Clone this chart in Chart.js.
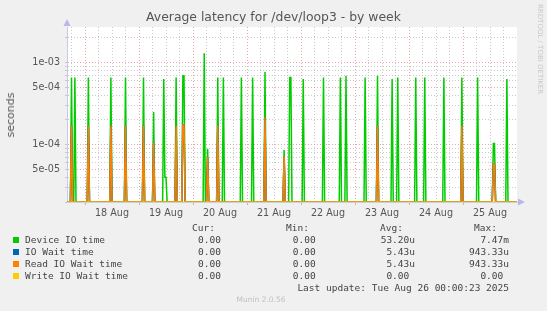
<!DOCTYPE html>
<html>
<head>
<meta charset="utf-8">
<script src="https://cdn.jsdelivr.net/npm/chart.js@4/dist/chart.umd.min.js"></script>
<style>
html, body { margin: 0; padding: 0; background: #f0f0f0; }
#wrap { position: relative; width: 547px; height: 311px; overflow: hidden; font-family: "DejaVu Sans", sans-serif; }
#myChart { position: absolute; left: 0; top: 0; }
.t { position: absolute; white-space: pre; line-height: 12px; }
.mono { font-family: "DejaVu Sans Mono", monospace; font-size: 9.5px; color: #444; }
.sq { position: absolute; width: 6px; height: 6px; }
</style>
</head>
<body>
<div id="wrap">
  <canvas id="myChart" width="547" height="311"></canvas>
  <div class="t" style="left:0;width:547px;top:11px;text-align:center;font-size:12.4px;color:#555;">Average latency for /dev/loop3 - by week</div>
  <div class="t" style="left:11px;top:115px;font-size:11px;color:#555;transform:translate(-50%,-50%) rotate(-90deg);">seconds</div>
  <div class="t" style="left:534px;top:4px;font-size:7px;color:#c8c8c8;writing-mode:vertical-rl;">RRDTOOL / TOBI OETIKER</div>
  <div class="t" style="left:0;width:522px;top:294px;text-align:center;font-size:7.5px;color:#c0c0c0;">Munin 2.0.56</div>
  <div id="legend"></div>
</div>
<script>
// time axis is in hours from 18 Aug 00:00, one sample every 30 minutes
var startHour = -8;
var endHour = 192;
var stepHour = 0.5;
var dayLabels = ["18 Aug", "19 Aug", "20 Aug", "21 Aug", "22 Aug", "23 Aug", "24 Aug", "25 Aug"];

// samples that are not zero (seconds)
var spikeHours = [-6, -4.5, 1.5, 11.5, 18, 26, 30.5, 35, 35.5, 36, 40.5, 43.5, 44, 53, 54.5, 59, 61.5, 69.5, 74.5, 80,
  88.5, 91, 91.5, 97, 106, 113.5, 116, 124.5, 130, 136.5, 139, 147, 151, 159.5, 167.5, 174.5, 181.5, 182, 187.5];
var deviceTime = [6.6e-4, 6.6e-4, 6.6e-4, 6.6e-4, 6.6e-4, 6.6e-4, 2.5e-4, 6.3e-4, 4.0e-5, 4.0e-5, 6.6e-4, 6.9e-4, 6.9e-4, 1.3e-3, 8.9e-5, 6.6e-4, 6.6e-4, 6.6e-4, 6.6e-4, 7.7e-4,
  8.6e-5, 6.6e-4, 6.6e-4, 6.3e-4, 6.6e-4, 6.6e-4, 6.9e-4, 6.6e-4, 6.9e-4, 6.3e-4, 6.6e-4, 6.6e-4, 6.6e-4, 6.6e-4, 6.6e-4, 6.6e-4, 1.03e-4, 1.03e-4, 6.3e-4];
var readWait = [1.7e-4, 0, 1.7e-4, 1.7e-4, 1.7e-4, 1.7e-4, 1.06e-4, 0, 0, 0, 1.7e-4, 1.74e-4, 1.74e-4, 0, 7.0e-5, 1.7e-4, 0, 0, 0, 2.16e-4,
  7.2e-5, 0, 0, 0, 0, 0, 0, 0, 1.7e-4, 0, 0, 0, 0, 0, 1.7e-4, 0, 5.8e-5, 5.8e-5, 0];
var ioWait = readWait;
var writeWait = [];

var yMin = 2e-5;
var yMax = 2.72e-3;
var yTicks = [2e-5, 3e-5, 4e-5, 5e-5, 6e-5, 7e-5, 8e-5, 9e-5, 1e-4, 2e-4, 3e-4, 4e-4, 5e-4, 6e-4, 7e-4, 8e-4, 9e-4, 1e-3, 2e-3];
var yLabelValues = [1e-3, 5e-4, 1e-4, 5e-5];
var yLabelTexts = ["1e-03", "5e-04", "1e-04", "5e-05"];

// legend
var seriesNames = ["Device IO time", "IO Wait time", "Read IO Wait time", "Write IO Wait time"];
var seriesColors = ["#00cc00", "#0066b3", "#ff8000", "#ffcc00"];
var curText = ["0.00 ", "0.00 ", "0.00 ", "0.00 "];
var minText = ["0.00 ", "0.00 ", "0.00 ", "0.00 "];
var avgText = ["53.20u", "5.43u", "5.43u", "0.00 "];
var maxText = ["7.47m", "943.33u", "943.33u", "0.00 "];

function series(values) {
  var pts = [];
  for (var h = startHour; h <= endHour; h += stepHour) {
    var i = spikeHours.indexOf(h);
    var v = (i >= 0 && values[i]) ? values[i] : 0;
    pts.push({ x: h, y: v > 0 ? v : yMin }); // zero sits on the bottom edge
  }
  return pts;
}

var red = "rgba(222,140,140,0.75)";
var grey = "rgba(190,190,190,0.8)";

var plotBg = {
  id: "plotBg",
  beforeDraw: function (chart) {
    var a = chart.chartArea, c = chart.ctx;
    c.save();
    c.fillStyle = "#ffffff";
    c.fillRect(a.left, a.top, a.right - a.left, a.bottom - a.top);
    c.restore();
  },
  afterDraw: function (chart) {
    var a = chart.chartArea, c = chart.ctx;
    c.save();
    c.fillStyle = "#b8b8e8";
    c.beginPath();
    c.moveTo(a.left - 3.5, a.top - 1); c.lineTo(a.left + 3.5, a.top - 1); c.lineTo(a.left, a.top - 8); c.closePath(); c.fill();
    c.beginPath();
    c.moveTo(a.right + 1, a.bottom - 3.5); c.lineTo(a.right + 1, a.bottom + 3.5); c.lineTo(a.right + 8, a.bottom); c.closePath(); c.fill();
    c.restore();
  }
};

Chart.defaults.font.family = "DejaVu Sans";

var ctx = document.getElementById("myChart");
var myChart = new Chart(ctx, {
  type: "line",
  data: {
    datasets: [
      { label: seriesNames[0], data: series(deviceTime), borderColor: seriesColors[0], order: 3 },
      { label: seriesNames[1], data: series(ioWait), borderColor: seriesColors[1], order: 2 },
      { label: seriesNames[2], data: series(readWait), borderColor: seriesColors[2], order: 1 },
      { label: seriesNames[3], data: series(writeWait), borderColor: seriesColors[3], order: 0, borderWidth: 1 }
    ]
  },
  options: {
    responsive: false,
    animation: false,
    layout: { padding: { left: 0, top: 27, right: 30, bottom: 89 } },
    elements: { point: { radius: 0 }, line: { borderWidth: 1.5, tension: 0, fill: false } },
    plugins: { legend: { display: false }, tooltip: { enabled: false } },
    scales: {
      x: {
        type: "linear",
        min: startHour,
        max: endHour,
        afterFit: function (s) { s.height = 20; },
        afterBuildTicks: function (s) {
          var t = [];
          for (var h = -6; h < endHour; h += 6) t.push({ value: h });
          s.ticks = t;
        },
        ticks: {
          autoSkip: false, maxRotation: 0, padding: 3, color: "#555", font: { size: 9.6 },
          callback: function (v) {
            var d = (v - 12) / 24;
            return (d >= 0 && d === Math.floor(d) && dayLabels[d]) ? dayLabels[d] : "";
          }
        },
        grid: {
          color: function (c) { return c.tick && c.tick.value % 24 === 0 ? red : grey; },
          tickColor: function (c) { return c.tick && c.tick.value % 24 === 0 ? red : "rgba(0,0,0,0)"; },
          tickLength: 3, lineWidth: 1
        },
        border: { color: "#d0d0d0", dash: [1, 2] }
      },
      y: {
        type: "logarithmic",
        min: yMin,
        max: yMax,
        afterFit: function (s) { s.width = 67; },
        afterBuildTicks: function (s) {
          s.ticks = yTicks.map(function (v) { return { value: v }; });
        },
        ticks: {
          autoSkip: false, padding: 5, color: "#555", font: { size: 9.6 },
          callback: function (v) {
            for (var i = 0; i < yLabelValues.length; i++) {
              if (Math.abs(v / yLabelValues[i] - 1) < 1e-6) return yLabelTexts[i];
            }
            return "";
          }
        },
        grid: {
          color: function (c) {
            if (!c.tick) return grey;
            var m = c.tick.value / Math.pow(10, Math.floor(Math.log10(c.tick.value) + 1e-9));
            return (Math.abs(m - 1) < 1e-6 || Math.abs(m - 5) < 1e-6) ? red : grey;
          },
          tickColor: grey,
          tickLength: 2, lineWidth: 1
        },
        border: { color: "#c8c8e8", dash: [1, 2] }
      }
    }
  },
  plugins: [plotBg]
});

// text legend below the plot
var lg = document.getElementById("legend");
function addText(str, right, top, left) {
  var d = document.createElement("div");
  d.className = "t mono";
  d.textContent = str;
  d.style.top = (top - 6) + "px";
  if (left !== undefined) d.style.left = left + "px"; else d.style.right = (547 - right) + "px";
  lg.appendChild(d);
}
addText("Cur:", 215, 227.5);
addText("Min:", 309, 227.5);
addText("Avg:", 403, 227.5);
addText("Max:", 497, 227.5);
for (var i = 0; i < seriesNames.length; i++) {
  var y = 239.5 + i * 12;
  var sq = document.createElement("div");
  sq.className = "sq";
  sq.style.left = "13px";
  sq.style.top = (y - 3) + "px";
  sq.style.background = seriesColors[i];
  lg.appendChild(sq);
  addText(seriesNames[i], 0, y, 25);
  addText(curText[i], 226.7, y);
  addText(minText[i], 321.4, y);
  addText(avgText[i], 415, y);
  addText(maxText[i], 509, y);
}
addText("Last update: Tue Aug 26 00:00:23 2025", 509, 287.5);
</script>
</body>
</html>
